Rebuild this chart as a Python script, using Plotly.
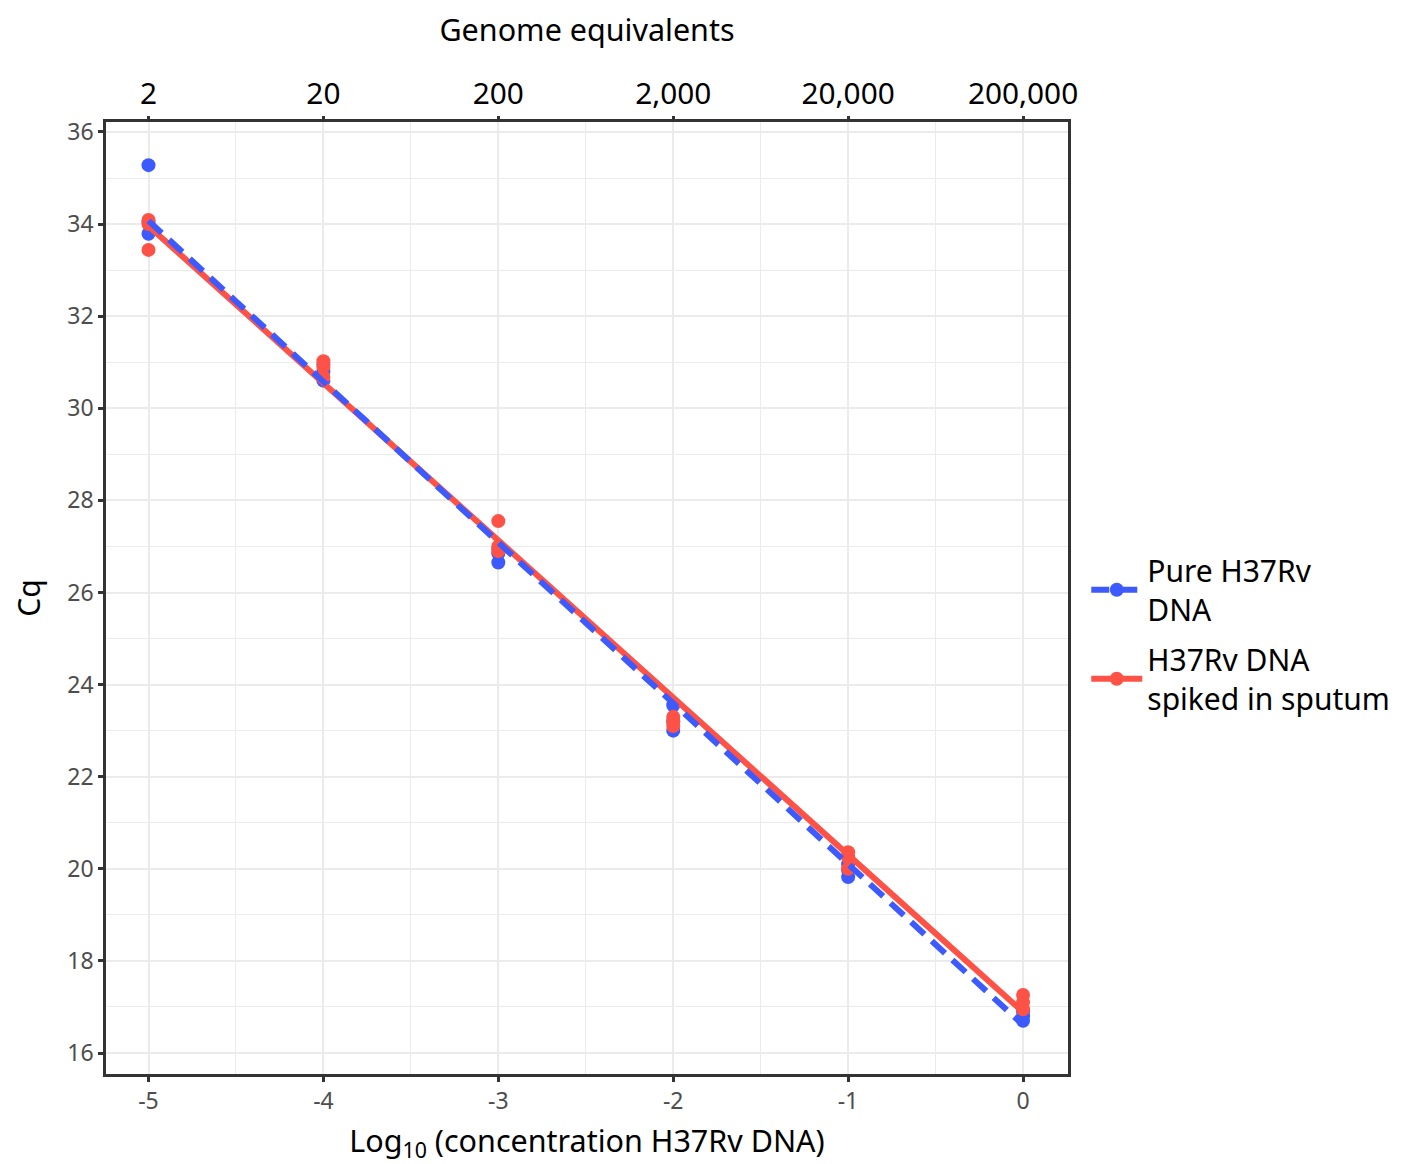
import plotly.graph_objects as go

# ---- data ----
log_conc = [-5, -5, -5, -4, -4, -4, -3, -3, -3, -2, -2, -2, -1, -1, -1, 0, 0, 0]
pure_cq = [35.28, 33.79, 34.05, 30.95, 30.80, 30.60, 26.65, 26.95, 26.85,
           23.55, 23.00, 23.20, 19.82, 19.97, 20.10, 16.70, 16.80, 16.90]
sputum_cq = [34.09, 33.44, 34.00, 31.02, 30.90, 30.68, 27.55, 26.90, 27.00,
             23.30, 23.10, 23.20, 20.36, 20.00, 20.25, 17.26, 17.10, 16.95]

fit_x = [-5, 0]
pure_fit = [34.07, 16.61]
sputum_fit = [33.96, 16.89]

tick_vals = [-5, -4, -3, -2, -1, 0]
bottom_ticks = ["-5", "-4", "-3", "-2", "-1", "0"]
genome_ticks = ["2", "20", "200", "2,000", "20,000", "200,000"]
y_ticks = [16, 18, 20, 22, 24, 26, 28, 30, 32, 34, 36]

BLUE = "#3D5AFE"
RED = "#FF5247"
FONT = "Noto Sans"

fig = go.Figure()

fig.add_trace(go.Scatter(x=log_conc, y=pure_cq, mode="markers",
                         marker=dict(color=BLUE, size=14), showlegend=False,
                         legendgroup="pure", hoverinfo="skip"))
fig.add_trace(go.Scatter(x=log_conc, y=sputum_cq, mode="markers",
                         marker=dict(color=RED, size=14), showlegend=False,
                         legendgroup="sputum", hoverinfo="skip"))

fig.add_trace(go.Scatter(x=fit_x, y=sputum_fit, mode="lines+markers", xaxis="x2",
                         line=dict(color=RED, width=6),
                         marker=dict(color=RED, size=14),
                         selectedpoints=[], unselected=dict(marker=dict(opacity=0)),
                         name="H37Rv DNA<br>spiked in sputum", legendgroup="sputum",
                         legendrank=2))
fig.add_trace(go.Scatter(x=fit_x, y=pure_fit, mode="lines+markers", xaxis="x2",
                         line=dict(color=BLUE, width=6, dash="18px,10px"),
                         marker=dict(color=BLUE, size=14),
                         selectedpoints=[], unselected=dict(marker=dict(opacity=0)),
                         name="Pure H37Rv<br>DNA", legendgroup="pure",
                         legendrank=1))

xrange = [-5.243, 0.257]
yrange = [15.544, 36.217]
grid_major = "#EBEBEB"

fig.update_layout(
    width=1405, height=1156,
    margin=dict(l=97.5, r=345, t=113.7, b=90),
    paper_bgcolor="white", plot_bgcolor="white",
    font=dict(family=FONT, size=30, color="black"),
    showlegend=True,
    legend=dict(x=1.019, y=0.462, xanchor="left", yanchor="middle",
                font=dict(family=FONT, size=30, color="black"),
                tracegroupgap=8, itemwidth=51, bgcolor="rgba(0,0,0,0)"),
    xaxis=dict(range=xrange, tickvals=tick_vals, ticktext=bottom_ticks,
               automargin=False,
               showgrid=True, gridcolor=grid_major, gridwidth=2,
               minor=dict(dtick=0.5, tick0=0, showgrid=True, gridcolor=grid_major, gridwidth=1),
               ticks="outside", ticklen=5, tickwidth=2.5, tickcolor="#333333",
               tickfont=dict(size=23, color="#4D4D4D"),
               showline=True, linecolor="#333333", linewidth=2.5, mirror=True,
               zeroline=False,
               title=dict(text="Log<sub>10</sub> (concentration H37Rv DNA)",
                          font=dict(size=30.5, color="black"), standoff=28)),
    xaxis2=dict(range=xrange, overlaying="x", side="top", tickvals=tick_vals,
                automargin=False,
                ticktext=genome_ticks, showgrid=False, zeroline=False,
                ticks="outside", ticklen=5, tickwidth=2.5, tickcolor="#333333",
                tickfont=dict(size=29.8, color="black"),
                title=dict(text="Genome equivalents", font=dict(size=30.5, color="black"),
                           standoff=35)),
    yaxis=dict(range=yrange, tickvals=y_ticks,
               automargin=False,
               showgrid=True, gridcolor=grid_major, gridwidth=2,
               minor=dict(dtick=1, tick0=0, showgrid=True, gridcolor=grid_major, gridwidth=1),
               ticks="outside", ticklen=5, tickwidth=2.5, tickcolor="#333333",
               tickfont=dict(size=23, color="#4D4D4D"),
               showline=True, linecolor="#333333", linewidth=2.5, mirror=True,
               zeroline=False,
               title=dict(text="Cq", font=dict(size=30, color="black"), standoff=22)),
)

fig.write_html("out.html")
